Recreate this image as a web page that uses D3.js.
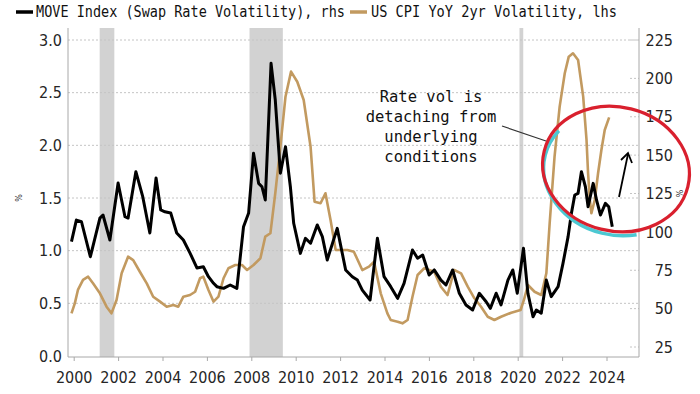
<!DOCTYPE html>
<html>
<head>
<meta charset="utf-8">
<script src="https://cdn.jsdelivr.net/npm/d3@7"></script>
<style>
  html, body { margin: 0; padding: 0; background: #fff; }
  svg { display: block; }
  .axis text { font-family: "DejaVu Sans Condensed", "DejaVu Sans", sans-serif; font-size: 16px; fill: #262626; }
  .axis path, .axis line { stroke: #a8a8a8; }
</style>
</head>
<body>
<div id="chart"></div>
<script>
// MOVE index (black, right axis)
const moveYears = [1999.90, 2000.12, 2000.35, 2000.75, 2001.18, 2001.32, 2001.63, 2002.00, 2002.31, 2002.45,
  2002.80, 2003.11, 2003.43, 2003.71, 2003.92, 2004.11, 2004.37, 2004.64, 2004.94, 2005.24,
  2005.55, 2005.84, 2006.07, 2006.30, 2006.45, 2006.75, 2007.05, 2007.35, 2007.65, 2007.88,
  2008.10, 2008.33, 2008.48, 2008.63, 2008.89, 2009.08, 2009.31, 2009.54, 2009.76, 2009.91,
  2010.21, 2010.44, 2010.67, 2010.97, 2011.20, 2011.42, 2011.87, 2012.25, 2012.55, 2012.78,
  2013.00, 2013.35, 2013.68, 2013.98, 2014.28, 2014.59, 2014.88, 2015.26, 2015.49, 2015.72,
  2016.01, 2016.24, 2016.54, 2016.77, 2017.07, 2017.37, 2017.67, 2017.97, 2018.27, 2018.58,
  2018.77, 2019.03, 2019.25, 2019.56, 2019.78, 2019.98, 2020.26, 2020.46, 2020.69, 2020.84,
  2021.06, 2021.29, 2021.51, 2021.82, 2022.04, 2022.27, 2022.42, 2022.57, 2022.72, 2022.87,
  2023.05, 2023.17, 2023.40, 2023.55, 2023.73, 2023.95, 2024.10, 2024.26];
const moveValues = [93.6, 107.7, 106.6, 83.8, 109.0, 111.0, 94.7, 131.8, 109.9, 109.0,
  139.2, 122.9, 99.3, 135.1, 114.3, 113.1, 112.3, 99.3, 94.7, 86.2,
  76.5, 77.3, 70.8, 66.5, 64.3, 63.2, 65.4, 63.2, 103.4, 112.3,
  151.2, 131.6, 129.4, 120.8, 209.8, 185.9, 138.2, 155.5, 129.4, 105.6,
  86.0, 95.8, 92.6, 104.5, 96.9, 81.7, 102.3, 75.2, 70.8, 68.6,
  62.1, 55.6, 95.8, 70.8, 64.3, 56.7, 66.5, 88.2, 82.8, 84.9,
  71.9, 75.2, 68.6, 65.4, 75.2, 60.0, 52.4, 49.1, 60.0, 54.5,
  50.2, 60.0, 52.4, 68.6, 75.2, 60.0, 89.3, 60.0, 44.7, 49.1,
  47.0, 68.6, 57.8, 64.3, 79.5, 96.9, 112.1, 124.0, 125.1, 139.2,
  129.4, 116.4, 131.6, 120.8, 111.0, 118.6, 116.4, 103.4];

// US CPI YoY 2yr volatility (gold, left axis)
const cpiYears = [1999.90, 2000.05, 2000.19, 2000.42, 2000.65, 2000.87, 2001.18, 2001.48, 2001.70, 2001.93,
  2002.16, 2002.45, 2002.68, 2002.98, 2003.29, 2003.58, 2003.89, 2004.19, 2004.49, 2004.71,
  2004.94, 2005.24, 2005.47, 2005.69, 2005.84, 2006.07, 2006.30, 2006.52, 2006.75, 2006.97,
  2007.28, 2007.58, 2007.81, 2008.10, 2008.41, 2008.63, 2008.86, 2009.08, 2009.31, 2009.54,
  2009.79, 2010.07, 2010.36, 2010.67, 2010.85, 2011.12, 2011.34, 2011.57, 2011.80, 2012.33,
  2012.62, 2013.00, 2013.30, 2013.53, 2013.83, 2014.13, 2014.28, 2014.59, 2014.81, 2015.04,
  2015.26, 2015.49, 2015.79, 2016.24, 2016.54, 2016.84, 2017.14, 2017.45, 2017.75, 2018.05,
  2018.35, 2018.65, 2018.95, 2019.25, 2019.71, 2020.13, 2020.28, 2020.46, 2020.76, 2021.06,
  2021.29, 2021.44, 2021.66, 2021.89, 2022.12, 2022.30, 2022.49, 2022.72, 2022.95, 2023.10,
  2023.17, 2023.25, 2023.32, 2023.47, 2023.62, 2023.77, 2023.92, 2024.12];
const cpiValues = [0.405, 0.50, 0.627, 0.722, 0.753, 0.69, 0.595, 0.468, 0.405, 0.532,
  0.785, 0.943, 0.911, 0.80, 0.69, 0.563, 0.516, 0.468, 0.484, 0.468,
  0.563, 0.579, 0.61, 0.738, 0.753, 0.627, 0.516, 0.563, 0.738, 0.833,
  0.864, 0.864, 0.817, 0.864, 0.928, 1.133, 1.165, 1.545, 1.987, 2.462,
  2.70, 2.604, 2.43, 1.987, 1.465, 1.45, 1.545, 1.291, 1.006, 1.006,
  0.99, 0.816, 0.848, 0.895, 0.595, 0.405, 0.342, 0.326, 0.31, 0.342,
  0.563, 0.769, 0.833, 0.80, 0.658, 0.579, 0.816, 0.785, 0.658, 0.548,
  0.468, 0.373, 0.342, 0.373, 0.411, 0.437, 0.532, 0.674, 0.61, 0.579,
  0.785, 1.26, 1.892, 2.367, 2.684, 2.842, 2.874, 2.81, 2.462, 2.051,
  1.735, 1.481, 1.355, 1.481, 1.735, 1.956, 2.146, 2.266];

const leftTicks = [0, 0.5, 1.0, 1.5, 2.0, 2.5, 3.0];
const rightTicks = [25, 50, 75, 100, 125, 150, 175, 200, 225];
const yearTicks = [2000, 2002, 2004, 2006, 2008, 2010, 2012, 2014, 2016, 2018, 2020, 2022, 2024];
// US recessions (shaded)
const recessions = [[2001.17, 2001.83], [2007.92, 2009.42], [2020.08, 2020.25]];
const legendLabels = ["MOVE Index (Swap Rate Volatility), rhs", "US CPI YoY 2yr Volatility, lhs"];
const noteLines = ["Rate vol is", "detaching from", "underlying", "conditions"];

const width = 700, height = 394;
const plot = { left: 68, right: 639, top: 28, bottom: 357 };

const svg = d3.select('#chart').append('svg')
    .attr('width', width)
    .attr('height', height);

const x = d3.scaleLinear().domain([2000, 2024]).range([73.7, 606.5]);
const yLeft = d3.scaleLinear().domain([0, 3]).range([356, 40]);
const yRight = d3.scaleLinear().domain([25, 225]).range([347, 40]);

// recession bands
svg.append('g').selectAll('rect')
    .data(recessions)
    .enter()
    .append('rect')
    .attr('x', d => x(d[0]))
    .attr('width', d => x(d[1]) - x(d[0]))
    .attr('y', plot.top)
    .attr('height', plot.bottom - plot.top)
    .attr('fill', '#d2d2d2');

// horizontal grid (left axis levels)
svg.append('g').selectAll('line')
    .data(leftTicks.filter(d => d > 0))
    .enter()
    .append('line')
    .attr('x1', plot.left)
    .attr('x2', plot.right)
    .attr('y1', d => yLeft(d))
    .attr('y2', d => yLeft(d))
    .attr('stroke', '#c4c4c4')
    .attr('stroke-width', 1)
    .attr('stroke-dasharray', '2,2');

// short inner ticks for right axis
svg.append('g').selectAll('line')
    .data(rightTicks)
    .enter()
    .append('line')
    .attr('x1', plot.right - 9)
    .attr('x2', plot.right)
    .attr('y1', d => yRight(d))
    .attr('y2', d => yRight(d))
    .attr('stroke', '#c4c4c4')
    .attr('stroke-dasharray', '2,2');

// axis frame lines
svg.append('line').attr('x1', plot.left).attr('x2', plot.left)
    .attr('y1', plot.top).attr('y2', plot.bottom).attr('stroke', '#a8a8a8');
svg.append('line').attr('x1', plot.right).attr('x2', plot.right)
    .attr('y1', plot.top).attr('y2', plot.bottom).attr('stroke', '#a8a8a8');
svg.append('line').attr('x1', plot.left).attr('x2', plot.right)
    .attr('y1', plot.bottom).attr('y2', plot.bottom).attr('stroke', '#a8a8a8');

// axes
const leftAxis = svg.append('g')
    .attr('class', 'axis')
    .attr('transform', `translate(${plot.left},0)`)
    .call(d3.axisLeft(yLeft).tickValues(leftTicks).tickFormat(d3.format('.1f')).tickSize(0).tickPadding(6));
leftAxis.select('.domain').remove();

const rightAxis = svg.append('g')
    .attr('class', 'axis')
    .attr('transform', `translate(${plot.right},0)`)
    .call(d3.axisRight(yRight).tickValues(rightTicks).tickSize(0).tickPadding(34));
rightAxis.select('.domain').remove();
rightAxis.selectAll('text').attr('text-anchor', 'end');

const bottomAxis = svg.append('g')
    .attr('class', 'axis')
    .attr('transform', `translate(0,${plot.bottom})`)
    .call(d3.axisBottom(x).tickValues(yearTicks).tickFormat(d3.format('d')).tickSize(4).tickPadding(11));
bottomAxis.select('.domain').remove();

// unit marks beside the axes
svg.append('text')
    .attr('transform', `translate(22,${yLeft(1.5)}) rotate(-90)`)
    .attr('text-anchor', 'middle')
    .attr('font-family', 'DejaVu Sans, sans-serif')
    .attr('font-size', 8)
    .attr('fill', '#333')
    .text('%');
svg.append('text')
    .attr('transform', `translate(683,${yRight(125)}) rotate(-90)`)
    .attr('text-anchor', 'middle')
    .attr('font-family', 'DejaVu Sans, sans-serif')
    .attr('font-size', 8)
    .attr('fill', '#333')
    .text('%');

// series lines
const cpiLine = d3.line()
    .x((d, i) => x(cpiYears[i]))
    .y(d => yLeft(d));
const moveLine = d3.line()
    .x((d, i) => x(moveYears[i]))
    .y(d => yRight(d));

svg.append('path')
    .datum(cpiValues)
    .attr('d', cpiLine)
    .attr('fill', 'none')
    .attr('stroke', '#c29a60')
    .attr('stroke-width', 2.6)
    .attr('stroke-linejoin', 'round');

svg.append('path')
    .datum(moveValues)
    .attr('d', moveLine)
    .attr('fill', 'none')
    .attr('stroke', '#000')
    .attr('stroke-width', 3)
    .attr('stroke-linejoin', 'round');

// annotation text
const note = svg.append('g')
    .attr('font-family', '"DejaVu Sans Mono", monospace')
    .attr('font-size', 15.5)
    .attr('fill', '#111')
    .attr('text-anchor', 'middle');
note.selectAll('text')
    .data(noteLines)
    .enter()
    .append('text')
    .attr('x', 431)
    .attr('y', (d, i) => 102 + i * 20)
    .text(d => d);

svg.append('line')
    .attr('x1', 502).attr('y1', 126)
    .attr('x2', 546).attr('y2', 141)
    .attr('stroke', '#333')
    .attr('stroke-width', 1.2);

// cyan and red ellipse highlight
const ell = { cx: 616, cy: 169, rx: 74, ry: 62, rot: 14 };
svg.append('ellipse')
    .attr('cx', 0).attr('cy', 0)
    .attr('rx', ell.rx).attr('ry', ell.ry)
    .attr('transform', `translate(${ell.cx + 1},${ell.cy + 4}) rotate(${ell.rot})`)
    .attr('fill', 'none')
    .attr('stroke', '#4cc8d2')
    .attr('stroke-width', 3.5)
    .attr('stroke-dasharray', '0 72 170 1000');
svg.append('ellipse')
    .attr('cx', 0).attr('cy', 0)
    .attr('rx', ell.rx).attr('ry', ell.ry)
    .attr('transform', `translate(${ell.cx},${ell.cy}) rotate(${ell.rot})`)
    .attr('fill', 'none')
    .attr('stroke', '#d9202e')
    .attr('stroke-width', 3.2);

// upward arrow
svg.append('line')
    .attr('x1', 619).attr('y1', 197)
    .attr('x2', 628).attr('y2', 154)
    .attr('stroke', '#000')
    .attr('stroke-width', 1.8);
svg.append('path')
    .attr('d', 'M621,160 L628,153 L632,163')
    .attr('fill', 'none')
    .attr('stroke', '#000')
    .attr('stroke-width', 1.8);

// legend
const legend = svg.append('g')
    .attr('font-family', '"DejaVu Sans Mono", monospace')
    .attr('font-size', 15)
    .attr('fill', '#111');
const legendItems = [
    { label: legendLabels[0], color: '#000', x0: 16, tx: 36, tw: 309 },
    { label: legendLabels[1], color: '#c29a60', x0: 350, tx: 371, tw: 246 }
];
legendItems.forEach(it => {
    legend.append('line')
        .attr('x1', it.x0).attr('x2', it.x0 + 17)
        .attr('y1', 12).attr('y2', 12)
        .attr('stroke', it.color)
        .attr('stroke-width', 3.5);
    legend.append('text')
        .attr('x', it.tx)
        .attr('y', 17)
        .attr('textLength', it.tw)
        .attr('lengthAdjust', 'spacingAndGlyphs')
        .text(it.label);
});
</script>
</body>
</html>
